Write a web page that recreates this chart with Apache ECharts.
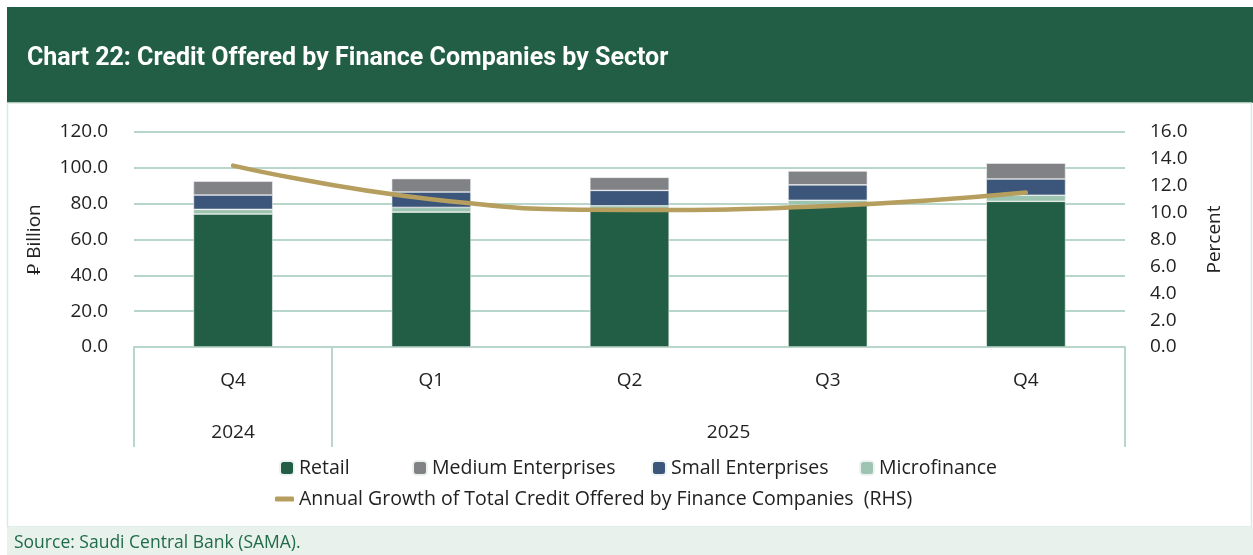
<!DOCTYPE html>
<html>
<head>
<meta charset="utf-8">
<script src="https://cdn.jsdelivr.net/npm/echarts@6/dist/echarts.min.js"></script>
<style>
  html, body { margin: 0; padding: 0; background: #fff; }
  #main { width: 1253px; height: 555px; }
</style>
</head>
<body>
<div id="main"></div>
<script>
// data (SAR billion, percent)
var quarters = ['Q4', 'Q1', 'Q2', 'Q3', 'Q4'];
var years = ['2024', '2025'];
var yearStart = [0, 1];   // first quarter index of each year
var yearCount = [1, 4];   // quarters in each year
var retail = [74.2, 75.3, 76.0, 79.1, 81.3];
var microfinance = [2.6, 2.6, 2.8, 2.8, 3.4];
var small = [8.0, 8.6, 8.6, 8.6, 9.1];
var medium = [7.7, 7.5, 7.3, 7.7, 8.8];
var growth = [13.5, 11.0, 10.2, 10.5, 11.5];
var leftTicks = [0, 20, 40, 60, 80, 100, 120];
var rightTicks = [0, 2, 4, 6, 8, 10, 12, 14, 16];

var GREEN = '#225e45';
var GRID = '#b9d6cb';
var FONT = '"Open Sans"';

var categories = quarters.map(function (q, i) { return i + '-' + q; });
var yearBounds = [0];
var yearCenters = [];
years.forEach(function (y, i) {
    yearBounds.push(yearStart[i] + yearCount[i]);
    yearCenters.push(yearStart[i] + yearCount[i] / 2);
});

var myChart = echarts.init(document.getElementById('main'));

function barSeries(name, data, color) {
    return {
        name: name,
        type: 'bar',
        stack: 'credit',
        barWidth: '40%',
        data: data,
        itemStyle: { color: color, borderColor: '#eef2f0', borderWidth: 0.6 }
    };
}

function legendAt(name, left, top, extra) {
    var l = {
        data: [name],
        left: left,
        top: top,
        itemWidth: 14,
        itemHeight: 14,
        textStyle: { fontFamily: FONT, fontSize: 19.5, color: '#222' }
    };
    for (var k in extra) l[k] = extra[k];
    return l;
}

var option = {
    animation: false,
    textStyle: { fontFamily: FONT },
    title: [{
        text: 'Chart 22: Credit Offered by Finance Companies by Sector',
        left: 22,
        top: 41,
        textStyle: { color: '#fff', fontSize: 25, fontWeight: 'bold', fontFamily: 'Roboto' }
    }, {
        text: 'Source: Saudi Central Bank (SAMA).',
        left: 9,
        top: 529,
        textStyle: { color: '#1f6b4a', fontSize: 17.5, fontWeight: 'normal', fontFamily: FONT }
    }],
    graphic: [
        { type: 'rect', z: -10, shape: { x: 7, y: 7, width: 1246, height: 96 }, style: { fill: GREEN } },
        { type: 'rect', z: -10, shape: { x: 7.5, y: 103, width: 1244, height: 424 }, style: { fill: '#fff', stroke: '#dce9e2', lineWidth: 1.5 } },
        { type: 'rect', z: -10, shape: { x: 7, y: 527, width: 1246, height: 28 }, style: { fill: '#e8f1ec' } }
    ],
    legend: [
        legendAt('Retail', 274, 453),
        legendAt('Medium Enterprises', 407, 453),
        legendAt('Small Enterprises', 646, 453),
        legendAt('Microfinance', 854, 453),
        legendAt('Annual Growth of Total Credit Offered by Finance Companies  (RHS)', 270, 484,
            { itemWidth: 19, itemHeight: 5, icon: 'roundRect' })
    ],
    grid: { left: 134, right: 128, top: 132, bottom: 208 },
    xAxis: [{
        type: 'category',
        data: categories,
        axisLine: { show: true, lineStyle: { color: GRID, width: 2 } },
        axisTick: { show: false },
        axisLabel: {
            margin: 24,
            fontSize: 19,
            color: '#222',
            formatter: function (v, i) { return quarters[i]; }
        }
    }, {
        type: 'value',
        position: 'bottom',
        min: 0,
        max: quarters.length,
        axisLine: { show: false },
        splitLine: { show: false },
        axisTick: {
            show: true,
            customValues: yearBounds,
            length: 100,
            lineStyle: { color: GRID, width: 2 }
        },
        axisLabel: {
            customValues: yearCenters,
            margin: 76,
            fontSize: 19,
            color: '#222',
            formatter: function (v) { return years[yearCenters.indexOf(v)]; }
        }
    }],
    yAxis: [{
        type: 'value',
        min: leftTicks[0],
        max: leftTicks[leftTicks.length - 1],
        interval: leftTicks[1] - leftTicks[0],
        name: '\u20C1 Billion',
        nameLocation: 'middle',
        nameGap: 90,
        nameTextStyle: { fontSize: 19, color: '#222', fontFamily: FONT },
        axisLine: { show: false },
        axisTick: { show: false },
        axisLabel: { margin: 26, fontSize: 19, color: '#222', formatter: function (v) { return v.toFixed(1); } },
        splitLine: { lineStyle: { color: GRID, width: 2 } }
    }, {
        type: 'value',
        min: rightTicks[0],
        max: rightTicks[rightTicks.length - 1],
        interval: rightTicks[1] - rightTicks[0],
        name: 'Percent',
        nameLocation: 'middle',
        nameGap: 80,
        nameTextStyle: { fontSize: 19, color: '#222', fontFamily: FONT },
        axisLine: { show: false },
        axisTick: { show: false },
        axisLabel: { margin: 25, fontSize: 19, color: '#222', formatter: function (v) { return v.toFixed(1); } },
        splitLine: { show: false }
    }],
    series: [
        barSeries('Retail', retail, GREEN),
        barSeries('Microfinance', microfinance, '#9cc4b1'),
        barSeries('Small Enterprises', small, '#3c557a'),
        barSeries('Medium Enterprises', medium, '#818286'),
        {
            name: 'Annual Growth of Total Credit Offered by Finance Companies  (RHS)',
            type: 'line',
            yAxisIndex: 1,
            smooth: 0.5,
            showSymbol: false,
            symbol: 'none',
            data: growth,
            lineStyle: { color: '#b59e5e', width: 4.5, cap: 'round' },
            itemStyle: { color: '#b59e5e' },
            z: 5
        }
    ]
};

myChart.setOption(option);
</script>
</body>
</html>
